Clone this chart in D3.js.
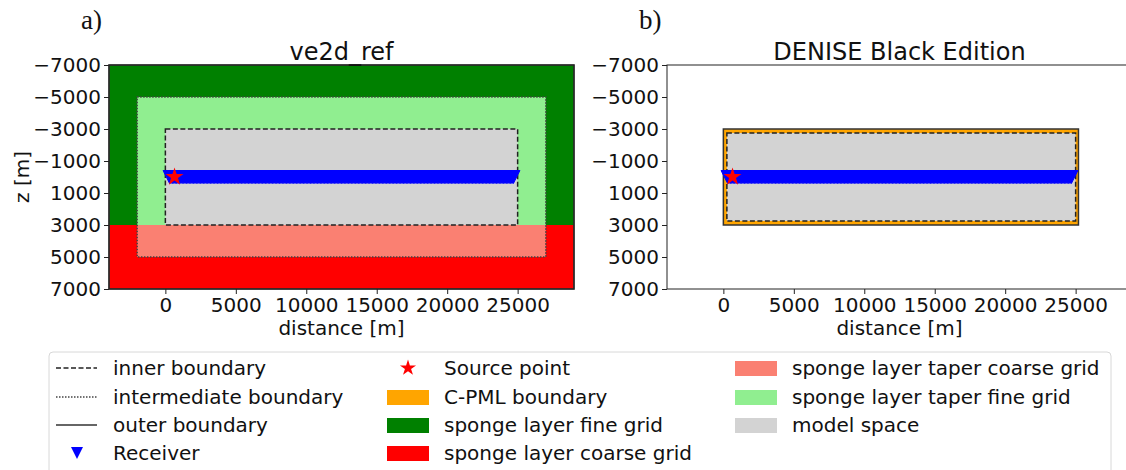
<!DOCTYPE html>
<html>
<head>
<meta charset="utf-8">
<script src="https://cdn.jsdelivr.net/npm/d3@7"></script>
<style>
  body { margin: 0; background: #fff; }
  text { font-family: 'DejaVu Sans', sans-serif; fill: #111; }
</style>
</head>
<body>
<script>
// axis ticks and limits (metres)
var xTicks = [0, 5000, 10000, 15000, 20000, 25000];
var zTicks = [-7000, -5000, -3000, -1000, 1000, 3000, 5000, 7000];
var xExtent = [-4000, 29000];
var zExtent = [-7000, 7000];

// ve2d_ref filled layers: [label, x0, x1, z0, z1]
var ve2dLayers = [
  ['sponge layer fine grid', -4000, 29000, -7000, 3000],
  ['sponge layer coarse grid', -4000, 29000, 3000, 7000],
  ['sponge layer taper fine grid', -2000, 27000, -5000, 3000],
  ['sponge layer taper coarse grid', -2000, 27000, 3000, 5000],
  ['model space', 0, 25000, -3000, 3000]
];
var ve2dInner = [0, 25000, -3000, 3000];
var ve2dIntermediate = [-2000, 27000, -5000, 5000];
var ve2dOuter = [-4000, 29000, -7000, 7000];

// DENISE Black Edition layers
var deniseLayers = [
  ['C-PML boundary', 0, 25200, -3000, 3000],
  ['model space', 250, 25000, -2750, 2750]
];
var deniseInner = [250, 25000, -2750, 2750];
var deniseOuter = [0, 25200, -3000, 3000];

// acquisition
var receiverFirst = 300, receiverLast = 24750, receiverStep = 100, receiverDepth = 0;
var sourcePoint = [650, 0];

var colors = {
  'C-PML boundary': 'orange',
  'sponge layer fine grid': 'green',
  'sponge layer coarse grid': 'red',
  'sponge layer taper coarse grid': 'salmon',
  'sponge layer taper fine grid': 'lightgreen',
  'model space': 'lightgrey'
};

var legendCols = [
  [['line', 'inner boundary'], ['line', 'intermediate boundary'], ['line', 'outer boundary'], ['receiver', 'Receiver']],
  [['source', 'Source point'], ['patch', 'C-PML boundary'], ['patch', 'sponge layer fine grid'], ['patch', 'sponge layer coarse grid']],
  [['patch', 'sponge layer taper coarse grid'], ['patch', 'sponge layer taper fine grid'], ['patch', 'model space']]
];

var lineStyles = {
  'inner boundary': { dash: '5,2.5', color: '#222', width: 1.5 },
  'intermediate boundary': { dash: '1.5,1.5', color: '#444', width: 1.5 },
  'outer boundary': { dash: null, color: '#333', width: 1.5 }
};

var W = 1126, H = 470;
var svg = d3.select('body').append('svg').attr('width', W).attr('height', H);

var plotTop = 65, plotH = 224, plotW = 465;
var trianglePath = function (h) { return 'M' + (-h) + ',' + (-h) + 'L' + h + ',' + (-h) + 'L0,' + h + 'Z'; };
var star = d3.symbol(d3.symbolStar);

function outline(g, x, z, r, style) {
  g.append('rect')
    .attr('x', x(r[0])).attr('y', z(r[2]))
    .attr('width', x(r[1]) - x(r[0])).attr('height', z(r[3]) - z(r[2]))
    .attr('fill', 'none')
    .attr('stroke', style.color)
    .attr('stroke-width', style.width)
    .attr('stroke-dasharray', style.dash);
}

function panel(left, title, tag, layers, inner, intermediate, outer, yLabel) {
  var g = svg.append('g').attr('transform', 'translate(' + left + ',' + plotTop + ')');
  var x = d3.scaleLinear().domain(xExtent).range([0, plotW]);
  var z = d3.scaleLinear().domain(zExtent).range([0, plotH]);

  g.selectAll('rect.layer').data(layers).enter().append('rect')
    .attr('class', 'layer')
    .attr('x', function (d) { return x(d[1]); })
    .attr('y', function (d) { return z(d[3]); })
    .attr('width', function (d) { return x(d[2]) - x(d[1]); })
    .attr('height', function (d) { return z(d[4]) - z(d[3]); })
    .attr('fill', function (d) { return colors[d[0]]; });

  if (intermediate) outline(g, x, z, intermediate, lineStyles['intermediate boundary']);
  outline(g, x, z, inner, lineStyles['inner boundary']);
  outline(g, x, z, outer, lineStyles['outer boundary']);

  var receivers = d3.range(receiverFirst, receiverLast + 1, receiverStep);
  g.selectAll('path.rec').data(receivers).enter().append('path')
    .attr('class', 'rec')
    .attr('d', trianglePath(6.5))
    .attr('transform', function (d) { return 'translate(' + x(d) + ',' + z(receiverDepth) + ')'; })
    .attr('fill', 'blue')
    .attr('stroke', 'blue')
    .attr('stroke-width', 1);

  g.append('path')
    .attr('d', star.size(100)())
    .attr('transform', 'translate(' + x(sourcePoint[0]) + ',' + z(sourcePoint[1]) + ')')
    .attr('fill', 'red');

  // frame
  g.append('rect').attr('width', plotW).attr('height', plotH)
    .attr('fill', 'none').attr('stroke', '#222').attr('stroke-width', 1);

  var ax = g.append('g').attr('transform', 'translate(0,' + plotH + ')')
    .call(d3.axisBottom(x).tickValues(xTicks).tickFormat(d3.format('d')).tickSize(5).tickPadding(4));
  var ay = g.append('g')
    .call(d3.axisLeft(z).tickValues(zTicks).tickFormat(d3.format('d')).tickSize(5).tickPadding(3));
  [ax, ay].forEach(function (a) {
    a.select('.domain').remove();
    a.selectAll('text').style('font-size', '20px').style('font-family', 'DejaVu Sans').attr('fill', '#111');
    a.selectAll('line').attr('stroke', '#222');
  });

  g.append('text').attr('x', plotW / 2).attr('y', plotH + 46)
    .attr('text-anchor', 'middle').style('font-size', '20px').text('distance [m]');
  g.append('text').attr('x', plotW / 2).attr('y', -5)
    .attr('text-anchor', 'middle').style('font-size', '24px').text(title);
  if (yLabel) {
    g.append('text').attr('transform', 'translate(' + (-80) + ',' + (plotH / 2) + ') rotate(-90)')
      .attr('text-anchor', 'middle').style('font-size', '20px').text(yLabel);
  }
  svg.append('text').attr('x', left - 28).attr('y', 29)
    .style('font-family', "'Liberation Serif', serif").style('font-size', '27px').text(tag);
}

panel(109, 've2d_ref', 'a)', ve2dLayers, ve2dInner, ve2dIntermediate, ve2dOuter, 'z [m]');
panel(667, 'DENISE Black Edition', 'b)', deniseLayers, deniseInner, null, deniseOuter, null);

// legend
var leg = svg.append('g');
leg.append('rect').attr('x', 49).attr('y', 352).attr('width', 1062).attr('height', 140)
  .attr('rx', 4).attr('fill', '#fff').attr('stroke', '#d8d8d8').attr('stroke-width', 1);

var colX = [56, 387, 735];
var rowY = [368, 397, 425, 453];
legendCols.forEach(function (col, ci) {
  col.forEach(function (item, ri) {
    var hx = colX[ci], cy = rowY[ri];
    var kind = item[0], label = item[1];
    if (kind === 'line') {
      var s = lineStyles[label];
      leg.append('line').attr('x1', hx).attr('x2', hx + 41).attr('y1', cy).attr('y2', cy)
        .attr('stroke', s.color).attr('stroke-width', s.width).attr('stroke-dasharray', s.dash);
    } else if (kind === 'receiver') {
      leg.append('path').attr('d', trianglePath(6))
        .attr('transform', 'translate(' + (hx + 21) + ',' + cy + ')').attr('fill', 'blue');
    } else if (kind === 'source') {
      leg.append('path').attr('d', star.size(80)())
        .attr('transform', 'translate(' + (hx + 21) + ',' + cy + ')').attr('fill', 'red');
    } else {
      leg.append('rect').attr('x', hx).attr('y', cy - 7).attr('width', 42).attr('height', 15)
        .attr('fill', colors[label]);
    }
    leg.append('text').attr('x', hx + 57).attr('y', cy + 7).style('font-size', '20px').text(label);
  });
});
</script>
</body>
</html>
